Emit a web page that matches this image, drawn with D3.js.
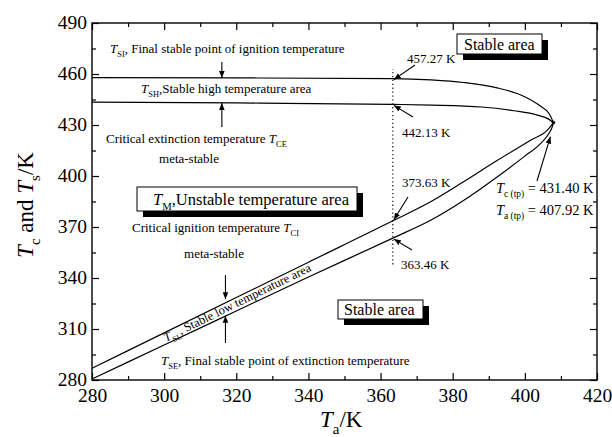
<!DOCTYPE html>
<html>
<head>
<meta charset="utf-8">
<script src="https://cdn.jsdelivr.net/npm/d3@7"></script>
<style>
  body { margin: 0; background: #fff; }
  text { font-family: "Liberation Serif", "Times New Roman", serif; fill: #000; }
  .axis line { stroke: #000; stroke-width: 1.2; }
  .axis path { display: none; }
</style>
</head>
<body>
<div id="chart"></div>
<script>
// values (Ta in K, Tc in K)
var upperTa = [280, 320, 363.4, 374, 383, 392, 399.8, 404.4, 406.8, 407.92];
var upperTc = [457.9, 457.7, 457.27, 456.5, 455.0, 452.0, 446.8, 441.0, 436.5, 431.4];

var highTa = [280, 320, 363.4, 374, 388, 397, 403.5, 406.5, 407.92];
var highTc = [443.4, 443.0, 442.13, 441.7, 440.6, 438.4, 435.8, 433.6, 431.4];

var midTa = [280, 300, 320, 340, 363.4, 374, 383, 392.4, 401.7, 406.3, 407.92];
var midTc = [286.9, 307.7, 328.5, 349.3, 373.63, 385.0, 396.6, 409.2, 421.2, 427.1, 431.4];

var lowTa = [280, 300, 320, 340, 363.4, 374, 383, 392.4, 399.8, 404.4, 406.7, 407.6, 407.92];
var lowTc = [280.6, 300.6, 320.6, 340.6, 363.46, 374.1, 385.6, 399.6, 411.4, 419.2, 425.1, 429.0, 431.4];

var dotTa = 363.4;
var dotTc = [348, 463];
var tpTa = 407.92, tpTc = 431.40;

var xTicks = [280, 300, 320, 340, 360, 380, 400, 420];
var xMinor = [290, 310, 330, 350, 370, 390, 410];
var yTicks = [280, 310, 340, 370, 400, 430, 460, 490];
var yMinor = [295, 325, 355, 385, 415, 445, 475];

var width = 612, height = 437;
var padding = {top: 23, bottom: 57, left: 92, right: 15};

var svg = d3.select("#chart").append("svg")
    .attr("width", width).attr("height", height);

var x = d3.scaleLinear().domain([280, 420]).range([padding.left, width - padding.right]);
var y = d3.scaleLinear().domain([280, 490]).range([height - padding.bottom, padding.top]);

// arrowhead
svg.append("defs").append("marker")
    .attr("id", "arr")
    .attr("viewBox", "0 0 10 10")
    .attr("refX", 10).attr("refY", 5)
    .attr("markerWidth", 7).attr("markerHeight", 7)
    .attr("markerUnits", "userSpaceOnUse")
    .attr("orient", "auto")
    .append("path").attr("d", "M0,1 L10,5 L0,9 Z").attr("fill", "#000");

// axes, ticks pointing inward on all four sides
var x0 = x.range()[0], x1 = x.range()[1], y0 = y.range()[0], y1 = y.range()[1];

svg.append("g").attr("class", "axis")
    .attr("transform", "translate(0," + y0 + ")")
    .call(d3.axisBottom(x).tickValues(xTicks).tickSize(-7).tickPadding(8))
    .selectAll("text").style("font-size", "19.5px").style("font-family", "Liberation Serif");
svg.append("g").attr("class", "axis")
    .attr("transform", "translate(0," + y0 + ")")
    .call(d3.axisBottom(x).tickValues(xMinor).tickSize(-4).tickFormat(""));
svg.append("g").attr("class", "axis")
    .attr("transform", "translate(0," + y1 + ")")
    .call(d3.axisTop(x).tickValues(xTicks).tickSize(-7).tickFormat(""));
svg.append("g").attr("class", "axis")
    .attr("transform", "translate(0," + y1 + ")")
    .call(d3.axisTop(x).tickValues(xMinor).tickSize(-4).tickFormat(""));

svg.append("g").attr("class", "axis")
    .attr("transform", "translate(" + x0 + ",0)")
    .call(d3.axisLeft(y).tickValues(yTicks).tickSize(-7).tickPadding(5))
    .selectAll("text").style("font-size", "19.5px").style("font-family", "Liberation Serif")
    .attr("dy", "0.3em");
svg.append("g").attr("class", "axis")
    .attr("transform", "translate(" + x0 + ",0)")
    .call(d3.axisLeft(y).tickValues(yMinor).tickSize(-4).tickFormat(""));
svg.append("g").attr("class", "axis")
    .attr("transform", "translate(" + x1 + ",0)")
    .call(d3.axisRight(y).tickValues(yTicks).tickSize(-7).tickFormat(""));
svg.append("g").attr("class", "axis")
    .attr("transform", "translate(" + x1 + ",0)")
    .call(d3.axisRight(y).tickValues(yMinor).tickSize(-4).tickFormat(""));

svg.append("rect")
    .attr("x", x0).attr("y", y1)
    .attr("width", x1 - x0).attr("height", y0 - y1)
    .attr("fill", "none").attr("stroke", "#000").attr("stroke-width", 1.4);

// curves
var line = d3.line()
    .x(function(d) { return x(d[0]); })
    .y(function(d) { return y(d[1]); })
    .curve(d3.curveMonotoneX);

[[upperTa, upperTc], [highTa, highTc], [midTa, midTc], [lowTa, lowTc]].forEach(function(s) {
    svg.append("path")
        .attr("d", line(d3.zip(s[0], s[1])))
        .attr("fill", "none").attr("stroke", "#000").attr("stroke-width", 1.2);
});

// dotted line at Ta = 363.4
svg.append("line")
    .attr("x1", x(dotTa)).attr("x2", x(dotTa))
    .attr("y1", y(dotTc[0])).attr("y2", y(dotTc[1]))
    .attr("stroke", "#000").attr("stroke-width", 1.1).attr("stroke-dasharray", "1.3,2.6");

// turning point
svg.append("circle").attr("cx", x(tpTa)).attr("cy", y(tpTc)).attr("r", 1.8).attr("fill", "#000");

// text with italic T and subscripts
function rich(g, px, py, parts, size, anchor) {
    var t = g.append("text").attr("x", px).attr("y", py)
        .style("font-size", size + "px")
        .attr("text-anchor", anchor || "start");
    var shift = 0;
    parts.forEach(function(p) {
        var s = t.append("tspan").text(p[0]);
        var kind = p[1] || "";
        if (kind.indexOf("i") >= 0) s.style("font-style", "italic");
        if (kind.indexOf("s") >= 0) {
            var d = 0.3 * size;
            s.style("font-size", (0.65 * size) + "px").attr("dy", d - shift);
            shift = d;
        } else if (shift !== 0) {
            s.attr("dy", -shift);
            shift = 0;
        }
    });
    return t;
}

function arrow(xa, ya, xb, yb) {
    svg.append("line")
        .attr("x1", xa).attr("y1", ya).attr("x2", xb).attr("y2", yb)
        .attr("stroke", "#000").attr("stroke-width", 1.1)
        .attr("marker-end", "url(#arr)");
}

function box(bx, by, bw, bh, parts, size, tx, ty) {
    svg.append("rect").attr("x", bx + 6).attr("y", by + 6).attr("width", bw).attr("height", bh).attr("fill", "#000");
    svg.append("rect").attr("x", bx).attr("y", by).attr("width", bw).attr("height", bh)
        .attr("fill", "#fff").attr("stroke", "#000").attr("stroke-width", 1);
    rich(svg, tx, ty, parts, size);
}

// annotations
rich(svg, 110, 53, [["T", "i"], ["SI", "s"], [", Final stable point of ignition temperature"]], 13);
rich(svg, 141, 93, [["T", "i"], ["SH", "s"], [",Stable high temperature area"]], 13);
rich(svg, 106, 143, [["Critical extinction temperature "], ["T", "i"], ["CE", "s"]], 13);
rich(svg, 189, 163, [["meta-stable"]], 13, "middle");
rich(svg, 132, 232, [["Critical ignition temperature "], ["T", "i"], ["CI", "s"]], 13);
rich(svg, 214, 258, [["meta-stable"]], 13, "middle");
rich(svg, 161, 365, [["T", "i"], ["SE", "s"], [", Final stable point of extinction temperature"]], 13);

var ang = -Math.atan((y(midTc[0]) - y(midTc[4])) / (x(midTa[4]) - x(midTa[0]))) * 180 / Math.PI;
rich(svg, 0, 0, [["T", "i"], ["SL", "s"], [", Stable low temperature area"]], 12.5)
    .attr("transform", "translate(166,342) rotate(" + ang + ")");

arrow(x(316), 62, x(316), y(457.7));
arrow(x(316), 127, x(316), y(443.0));
arrow(x(317), 275, x(317), y(327.5));
arrow(x(317), 343, x(317), y(317.8));

rich(svg, 407, 63, [["457.27 K"]], 13);
rich(svg, 402, 137, [["442.13 K"]], 13);
rich(svg, 402, 187, [["373.63 K"]], 13);
rich(svg, 401, 269, [["363.46 K"]], 13);
arrow(415, 65, x(dotTa) + 1, y(457.27) + 1);
arrow(413, 117, x(dotTa) + 1, y(442.13) + 1);
arrow(408, 197, x(dotTa) + 1, y(373.63) - 1);
arrow(412, 250, x(dotTa) + 1, y(363.46) + 1);

rich(svg, 496, 193, [["T", "i"], ["c (tp)", "s"], [" = 431.40 K"]], 14.5);
rich(svg, 496, 215, [["T", "i"], ["a (tp)", "s"], [" = 407.92 K"]], 14.5);
arrow(537, 181, x(tpTa) - 3, y(tpTc) + 14);

box(457, 34, 85, 20, [["Stable area"]], 16, 464, 50);
box(137, 187, 220, 24, [["T", "i"], ["M", "s"], [",Unstable temperature area"]], 16.5, 153, 205);
box(338, 300, 85, 19, [["Stable area"]], 16, 344, 315);

// axis titles
rich(svg, 320, 427, [["T", "i"], ["a", "s"], ["/K"]], 23);
rich(svg, 0, 0, [["T", "i"], ["c", "s"], [" and "], ["T", "i"], ["s", "s"], ["/K"]], 23)
    .attr("text-anchor", "middle")
    .attr("transform", "translate(33,205) rotate(-90)");
</script>
</body>
</html>
